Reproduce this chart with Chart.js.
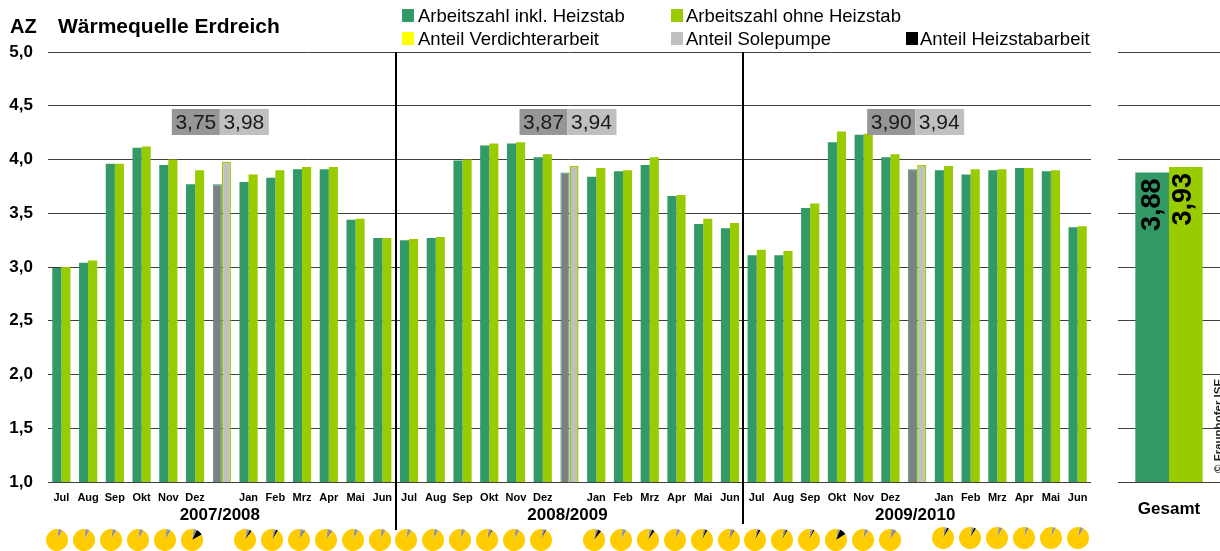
<!DOCTYPE html>
<html><head><meta charset="utf-8">
<script src="https://cdn.jsdelivr.net/npm/chart.js@4/dist/chart.umd.min.js"></script>
<style>
html,body{margin:0;padding:0;background:#fff;width:1220px;height:551px;overflow:hidden;font-family:"Liberation Sans",Arial,sans-serif;color:#000}
canvas{position:absolute}
.t{position:absolute;white-space:nowrap;line-height:1}
.sq{position:absolute;width:12px;height:13px}
</style></head><body>
<canvas id="main" width="1220" height="551" style="left:0;top:0"></canvas>
<canvas id="total" width="120" height="551" style="left:1100px;top:0"></canvas>
<div class="t" style="left:10px;top:16px;font-weight:bold;font-size:20px">AZ</div>
<div class="t" style="left:58px;top:15px;font-weight:bold;font-size:21px">Wärmequelle Erdreich</div>
<div class="sq" style="left:402px;top:9px;background:#339966"></div><div class="t" style="left:418px;top:7px;font-size:18.5px">Arbeitszahl inkl. Heizstab</div>
<div class="sq" style="left:671px;top:9px;background:#99CC00"></div><div class="t" style="left:686px;top:7px;font-size:18.5px">Arbeitszahl ohne Heizstab</div>
<div class="sq" style="left:402px;top:32px;background:#FFFF00"></div><div class="t" style="left:418px;top:30px;font-size:18.5px">Anteil Verdichterarbeit</div>
<div class="sq" style="left:671px;top:32px;background:#C0C0C0"></div><div class="t" style="left:686px;top:30px;font-size:18.5px">Anteil Solepumpe</div>
<div class="sq" style="left:906px;top:32px;background:#000000"></div><div class="t" style="left:920px;top:30px;font-size:18.5px">Anteil Heizstabarbeit</div>
<script>
const monthLabels = ["Jul","Aug","Sep","Okt","Nov","Dez","","Jan","Feb","Mrz","Apr","Mai","Jun",
                     "Jul","Aug","Sep","Okt","Nov","Dez","","Jan","Feb","Mrz","Apr","Mai","Jun",
                     "Jul","Aug","Sep","Okt","Nov","Dez","","Jan","Feb","Mrz","Apr","Mai","Jun"];
const inklHeizstab = [2.99,3.04,3.96,4.11,3.95,3.77,3.77,3.79,3.83,3.91,3.91,3.44,3.27,
                      3.25,3.27,3.99,4.13,4.15,4.02,3.88,3.84,3.89,3.95,3.66,3.40,3.36,
                      3.11,3.11,3.55,4.16,4.23,4.02,3.91,3.90,3.86,3.90,3.92,3.89,3.37];
const ohneHeizstab = [3.00,3.06,3.96,4.12,4.00,3.90,3.98,3.86,3.90,3.93,3.93,3.45,3.27,
                      3.26,3.28,4.00,4.15,4.16,4.05,3.94,3.92,3.90,4.02,3.67,3.45,3.41,
                      3.16,3.15,3.59,4.26,4.24,4.05,3.95,3.94,3.91,3.91,3.92,3.90,3.38];
const seasonIdx = [6,19,32];
const seasonNames = ["2007/2008","2008/2009","2009/2010"];
const seasonInkl = ["3,75","3,87","3,90"];
const seasonOhne = ["3,98","3,94","3,94"];
const totalLabel = ["Gesamt"];
const totalInkl = [3.88];
const totalOhne = [3.93];
const shareSole = [.06,.06,.06,.06,.06,.05,.05,.04,.06,.06,.06,.06,
                   .06,.06,.06,.05,.06,.04,.04,.06,.04,.06,.03,.05,
                   .03,.04,.04,.04,.06,.06,.04,.04,.05,.05,.05,.06];
const shareHeizstab = [0,0,0,0,.005,.10,.03,.03,.01,.01,0,0,
                       0,0,0,.01,0,.015,.05,0,.04,0,.03,.01,
                       .03,.02,.02,.10,0,.01,.03,.03,.005,0,0,0];
const shareVerdichter = shareSole.map((s,i)=>1-s-shareHeizstab[i]);

const FF = '"Liberation Sans",Arial,sans-serif';
Chart.defaults.animation = false;
Chart.defaults.responsive = false;
Chart.defaults.devicePixelRatio = 1;
Chart.defaults.font.family = FF;
Chart.defaults.plugins.legend.display = false;
Chart.defaults.plugins.tooltip.enabled = false;

const isSeason = i => seasonIdx.includes(i);
const overlay = {
  id:'overlay',
  afterDatasetsDraw(c){
    const g=c.ctx,x=c.scales.x,y=c.scales.y;
    g.save();
    const lineEnds=[530,524];
    [12.5,25.5].forEach((v,k)=>{
      const px=Math.round(x.getPixelForValue(v));
      g.fillStyle='#000';g.fillRect(px-1,y.getPixelForValue(5),2,lineEnds[k]-y.getPixelForValue(5));
    });
    const boxTop=y.getPixelForValue(4.47),boxH=26,boxW=48;
    seasonIdx.forEach((idx,k)=>{
      const cx=x.getPixelForValue(idx)-2;
      g.fillStyle='#969696';g.fillRect(cx-boxW,boxTop,boxW,boxH);
      g.fillStyle='#C0C0C0';g.fillRect(cx,boxTop,boxW+1,boxH);
      g.fillStyle='#1a1a1a';g.font='21px '+FF;g.textAlign='center';g.textBaseline='middle';
      g.fillText(seasonInkl[k],cx-boxW/2,boxTop+boxH/2+1);
      g.fillText(seasonOhne[k],cx+boxW/2,boxTop+boxH/2+1);
      g.fillStyle='#000';g.font='bold 17px '+FF;
      g.fillText(seasonNames[k],cx,515);
    });
    g.restore();
  }
};
const main = new Chart(document.getElementById('main'),{
  type:'bar',
  data:{labels:monthLabels,datasets:[
    {label:'Arbeitszahl inkl. Heizstab',data:inklHeizstab,
     backgroundColor:monthLabels.map((_,i)=>isSeason(i)?'#808080':'#339966'),
     borderColor:'#339966',borderWidth:monthLabels.map((_,i)=>isSeason(i)?1:0)},
    {label:'Arbeitszahl ohne Heizstab',data:ohneHeizstab,
     backgroundColor:monthLabels.map((_,i)=>isSeason(i)?'#C0C0C0':'#99CC00'),
     borderColor:'#99CC00',borderWidth:monthLabels.map((_,i)=>isSeason(i)?1.5:0)}
  ]},
  options:{
    layout:{padding:{top:52,right:129,left:0,bottom:0}},
    datasets:{bar:{categoryPercentage:.68,barPercentage:1}},
    scales:{
      x:{grid:{display:false},border:{display:false},
         afterFit(s){s.height=69},
         ticks:{autoSkip:false,maxRotation:0,minRotation:0,padding:1,color:'#000',font:{size:11,weight:'bold'}}},
      y:{min:1,max:5,grid:{color:'#404040',drawTicks:false},border:{display:false},
         afterFit(s){s.width=48},
         ticks:{stepSize:.5,padding:15,color:'#000',font:{size:17,weight:'bold'},
                callback:v=>v.toFixed(1).replace('.',','),}}
    }
  },
  plugins:[overlay]
});

const totalOverlay = {
  id:'totalOverlay',
  afterDatasetsDraw(c){
    const g=c.ctx;
    const vals=[totalInkl[0],totalOhne[0]];
    g.save();
    vals.forEach((v,k)=>{
      const b=c.getDatasetMeta(k).data[0];
      g.save();g.translate(b.x-(k?2:0),b.y+6);g.rotate(-Math.PI/2);
      g.fillStyle='#000';g.font='bold 27px '+FF;g.textAlign='right';g.textBaseline='middle';
      g.fillText(v.toFixed(2).replace('.',','),0,0);
      g.restore();
    });
    g.translate(122,473);g.rotate(-Math.PI/2);
    g.fillStyle='#222';g.font='bold 11.5px '+FF;g.textAlign='left';g.textBaseline='alphabetic';
    g.fillText('© Fraunhofer ISE',0,0);
    g.restore();
  }
};
new Chart(document.getElementById('total'),{
  type:'bar',
  data:{labels:totalLabel,datasets:[
    {label:'Arbeitszahl inkl. Heizstab',data:totalInkl,backgroundColor:'#339966'},
    {label:'Arbeitszahl ohne Heizstab',data:totalOhne,backgroundColor:'#99CC00'}
  ]},
  options:{
    layout:{padding:{top:52,right:0,left:0,bottom:0}},
    datasets:{bar:{categoryPercentage:.66,barPercentage:1}},
    scales:{
      x:{grid:{display:false},border:{display:false},afterFit(s){s.height=69},
         ticks:{padding:9,color:'#000',font:{size:17,weight:'bold'}}},
      y:{min:1,max:5,grid:{color:'#404040',drawTicks:false},border:{display:false},afterFit(s){s.width=18},
         ticks:{stepSize:.5,display:false}}
    }
  },
  plugins:[totalOverlay]
});

// one small pie per month, placed under its month on the main chart's x scale
const monthIdx = monthLabels.map((l,i)=>l?i:-1).filter(i=>i>=0);
monthIdx.forEach((idx,k)=>{
  const cv=document.createElement('canvas');
  cv.width=22;cv.height=22;
  const cx=main.scales.x.getPixelForValue(idx)-4+4*idx/38;
  const cy=k>=30?538:540;
  cv.style.left=Math.round(cx-11)+'px';
  cv.style.top=(cy-11)+'px';
  document.body.appendChild(cv);
  new Chart(cv,{
    type:'pie',
    data:{labels:['Anteil Solepumpe','Anteil Heizstabarbeit','Anteil Verdichterarbeit'],
      datasets:[{data:[shareSole[k],shareHeizstab[k],shareVerdichter[k]],
        backgroundColor:['#969696','#000000','#FFCC00'],borderWidth:0}]},
    options:{layout:{padding:0},rotation:8,plugins:{legend:{display:false}}}
  });
});
</script>
</body></html>
